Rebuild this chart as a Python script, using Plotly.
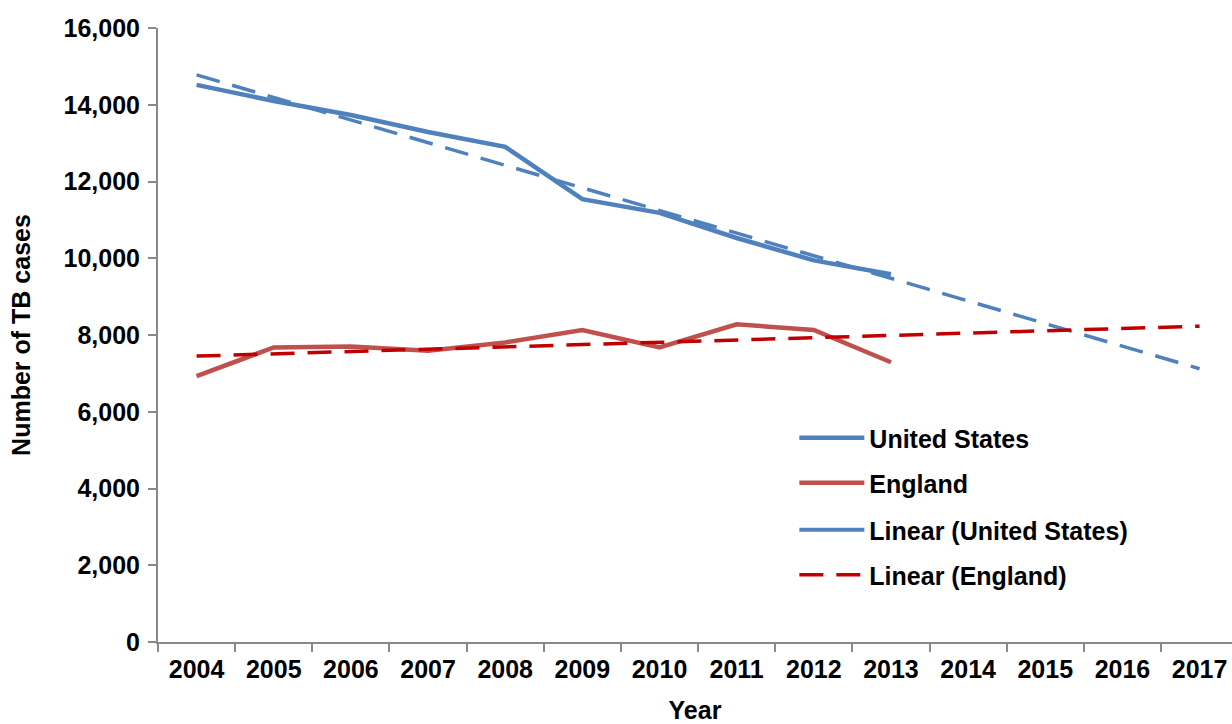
import plotly.graph_objects as go

years = ["2004", "2005", "2006", "2007", "2008", "2009", "2010", "2011", "2012", "2013",
         "2014", "2015", "2016", "2017"]
us_years = years[:10]
us_cases = [14517, 14097, 13732, 13288, 12905, 11540, 11182, 10528, 9945, 9582]
eng_cases = [6929, 7677, 7703, 7588, 7807, 8129, 7676, 8280, 8130, 7290]
# trendline endpoints (2004 and 2017)
trend_x = ["2004", "2017"]
trend_us = [14780, 7120]
trend_eng = [7450, 8230]

BLUE = "#4F81BD"
RED = "#C0504D"
DARKRED = "#C00000"
FONT = "Liberation Sans, Arial, sans-serif"
FS = 25

fig = go.Figure()
fig.add_trace(go.Scatter(x=us_years, y=us_cases, mode="lines", name="United States",
                         line=dict(color=BLUE, width=4.5), legend="legend"))
fig.add_trace(go.Scatter(x=us_years, y=eng_cases, mode="lines", name="England",
                         line=dict(color=RED, width=4.5), legend="legend2"))
fig.add_trace(go.Scatter(x=trend_x, y=trend_us, mode="lines", name="Linear (United States)",
                         line=dict(color=BLUE, width=3.5, dash="24px,13px"), showlegend=False))
fig.add_trace(go.Scatter(x=[None], y=[None], mode="lines", name="Linear (United States)",
                         line=dict(color=BLUE, width=4), legend="legend3"))
fig.add_trace(go.Scatter(x=trend_x, y=trend_eng, mode="lines", name="Linear (England)",
                         line=dict(color=DARKRED, width=3.5, dash="24px,13px"), legend="legend4"))

leg_common = dict(font=dict(family=FONT, size=FS, color="black", weight="bold"),
                  bgcolor="rgba(0,0,0,0)", itemwidth=65, xanchor="left", yanchor="middle",
                  x=0.5925)

def ly(py):
    return (642 - py) / 614

fig.update_layout(
    width=1232, height=724,
    margin=dict(l=158, r=0, t=28, b=82),
    paper_bgcolor="white", plot_bgcolor="white",
    font=dict(family=FONT, size=FS, color="black"),
    legend=dict(**leg_common, y=ly(438)),
    legend2=dict(**leg_common, y=ly(483)),
    legend3=dict(**leg_common, y=ly(530)),
    legend4=dict(**leg_common, y=ly(575)),
    xaxis=dict(type="category", categoryorder="array", categoryarray=years,
               range=[-0.5, 13.42], tickson="boundaries", ticks="outside", ticklen=8,
               tickcolor="#888888", tickwidth=2, showline=True, linecolor="#888888",
               linewidth=2, showgrid=False, zeroline=False, automargin=False,
               ticklabelstandoff=4,
               tickfont=dict(family=FONT, size=FS, color="black", weight="bold"),
               title=dict(text="Year", font=dict(family=FONT, size=FS, weight="bold"),
                          standoff=23)),
    yaxis=dict(range=[0, 16000], tickvals=list(range(0, 16001, 2000)),
               tickformat=",d", ticks="outside", ticklen=8, tickcolor="#888888", tickwidth=2,
               showline=True, linecolor="#888888", linewidth=2, showgrid=False, zeroline=False,
               automargin=False, ticklabelstandoff=3,
               tickfont=dict(family=FONT, size=FS, color="black", weight="bold"),
               title=dict(text="Number of TB cases",
                          font=dict(family=FONT, size=FS, weight="bold"), standoff=26)),
)

fig.write_html("out.html", config={"displayModeBar": False},
               post_script="document.body.style.margin='0';document.body.style.overflow='hidden';")
